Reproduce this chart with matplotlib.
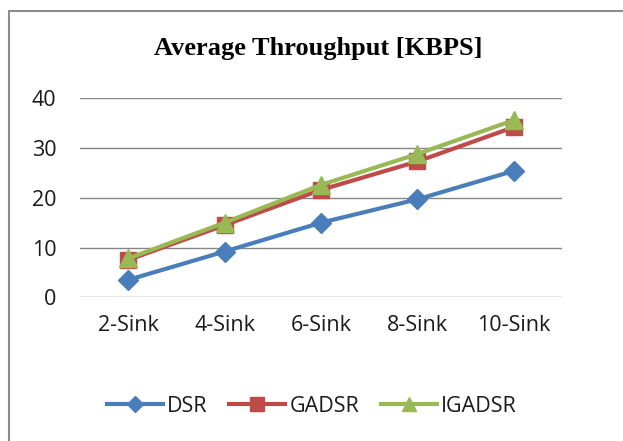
import matplotlib
matplotlib.use("Agg")
import matplotlib.pyplot as plt
from matplotlib.patches import Rectangle

categories = ["2-Sink", "4-Sink", "6-Sink", "8-Sink", "10-Sink"]
dsr = [3.5, 9.2, 15.0, 19.7, 25.4]
gadsr = [7.5, 14.5, 21.6, 27.3, 34.2]
igadsr = [7.8, 15.0, 22.6, 28.8, 35.6]

fig = plt.figure(figsize=(6.23, 4.41), dpi=100)
# chart border, cropped at right and bottom like the reference
fig.patches.append(Rectangle((9 / 623, -0.05), 1.2, 1 - 11 / 441 + 0.05, transform=fig.transFigure,
                             fill=False, edgecolor="#8c8c8c", linewidth=1.5))

ax = fig.add_axes([80 / 623, 1 - 297.3 / 441, 482 / 623, 199 / 441])
x = range(len(categories))
ax.plot(x, dsr, color="#4a7ebb", marker="D", markersize=10, linewidth=3, label="DSR")
ax.plot(x, gadsr, color="#be4b48", marker="s", markersize=12, linewidth=3, label="GADSR")
ax.plot(x, igadsr, color="#98b954", marker="^", markersize=13, linewidth=3, label="IGADSR")

ax.set_xlim(-0.5, 4.5)
ax.set_ylim(0, 40)
ax.set_yticks([0, 10, 20, 30, 40])
ax.set_xticks(list(x))
ax.set_xticklabels(categories)
for s in ax.spines.values():
    s.set_visible(False)
ax.grid(True, axis="y", color="#868686", linewidth=1)
ax.set_axisbelow(True)
ax.tick_params(length=0, labelsize=15.5)
ax.tick_params(axis="y", pad=17)
ax.tick_params(axis="x", pad=13)
for lbl in ax.get_xticklabels() + ax.get_yticklabels():
    lbl.set_fontfamily("Open Sans")
    lbl.set_color("#1a1a1a")

fig.text(318 / 623, 1 - 48 / 441, "Average Throughput [KBPS]", ha="center", va="center",
         fontsize=19, fontweight="bold", family="Liberation Serif")

leg = fig.legend(loc="center", bbox_to_anchor=(312 / 623, 1 - 406 / 441), ncol=3, frameon=False,
                 prop={"family": "Open Sans", "size": 15.5}, handlelength=2.6, columnspacing=1.0,
                 handletextpad=0.2, markerscale=0.8)
for t in leg.get_texts():
    t.set_color("#1a1a1a")

fig.savefig("out.png", dpi=100)
